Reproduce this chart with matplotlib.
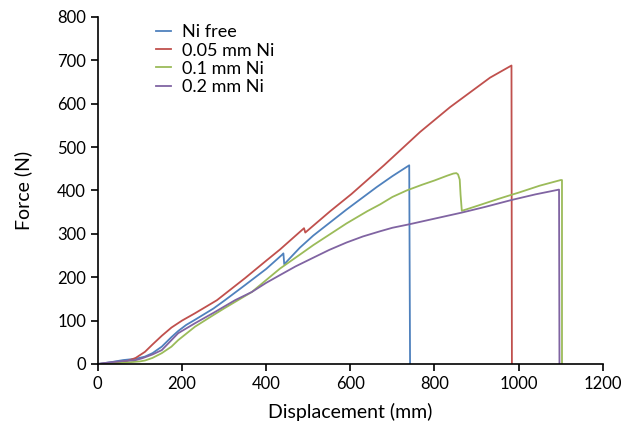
import numpy as np
import matplotlib
matplotlib.use("Agg")
import matplotlib.pyplot as plt

plt.rcParams['font.family'] = ['Lato', 'DejaVu Sans']

# Ni free
x_free = [0, 30, 60, 90, 112, 130, 152, 175, 191, 210, 231, 275, 302, 350, 400,
          437, 441, 443, 480, 512, 591, 663, 700, 740, 742]
y_free = [0, 4, 9, 12, 17, 25, 40, 62, 76, 90, 102, 128, 147, 182, 219,
          251, 255, 230, 268, 296, 356, 408, 433, 458, 0]

# 0.05 mm Ni
x_005 = [0, 40, 65, 90, 112, 130, 152, 175, 200, 231, 283, 350, 400, 433, 490,
         493, 552, 603, 680, 766, 837, 932, 983, 984]
y_005 = [0, 2, 5, 14, 28, 45, 65, 84, 100, 117, 147, 198, 238, 264, 313,
         303, 352, 392, 458, 535, 592, 660, 688, 0]

# 0.1 mm Ni
x_01 = [0, 50, 100, 112, 130, 152, 175, 191, 231, 275, 300, 366, 433, 480, 512,
        591, 640, 671, 700, 734, 770, 800, 830, 845, 852, 856, 860, 862, 865,
        900, 950, 983, 1000, 1050, 1100, 1103, 1103]
y_01 = [0, 2, 6, 8, 14, 25, 40, 55, 86, 113, 128, 166, 220, 252, 274,
        324, 352, 368, 385, 400, 413, 423, 434, 439, 440, 437, 425, 390, 353,
        364, 380, 390, 395, 411, 424, 424, 0]

# 0.2 mm Ni
x_02 = [0, 30, 60, 90, 105, 130, 152, 191, 231, 275, 326, 366, 400, 433, 470,
        512, 550, 591, 630, 671, 700, 740, 800, 865, 920, 983, 1040, 1096, 1097]
y_02 = [0, 4, 7, 9, 13, 22, 32, 71, 94, 118, 147, 166, 187, 205, 225,
        245, 263, 280, 294, 306, 314, 322, 335, 349, 362, 378, 391, 402, 0]

labels = ['Ni free', '0.05 mm Ni', '0.1 mm Ni', '0.2 mm Ni']
colors = ['#4F81BD', '#C0504D', '#9BBB59', '#8064A2']

fig = plt.figure(figsize=(6.21, 4.34), dpi=100)
ax = fig.add_axes([0.1575, 0.1613, 0.8132, 0.7997])

series = [(x_free, y_free), (x_005, y_005), (x_01, y_01), (x_02, y_02)]
for (xs, ys), lab, c in zip(series, labels, colors):
    ax.plot(xs, ys, color=c, lw=1.3, label=lab)

ax.set_xlim(0, 1200)
ax.set_ylim(0, 800)
ax.set_xticks(np.arange(0, 1201, 200))
ax.set_yticks(np.arange(0, 801, 100))
ax.spines['top'].set_visible(False)
ax.spines['right'].set_visible(False)
ax.spines['left'].set_linewidth(1.2)
ax.spines['bottom'].set_linewidth(1.2)
ax.tick_params(direction='out', length=5, width=1.2, labelsize=12)

ax.set_xlabel('Displacement (mm)', fontsize=14, labelpad=8)
ax.set_ylabel('Force (N)', fontsize=14, labelpad=18)

ax.legend(loc='upper left', bbox_to_anchor=(0.09, 1.015), frameon=False,
          fontsize=13, handlelength=0.85, handletextpad=0.6,
          labelspacing=0.12, borderpad=0.2)

fig.savefig('out.png', dpi=100)
